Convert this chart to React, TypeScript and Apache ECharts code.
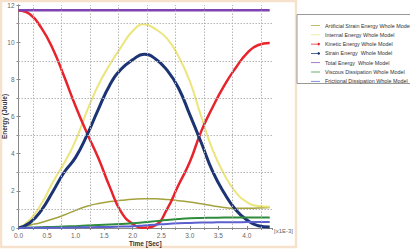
import React, { useEffect, useRef } from "react";
import * as echarts from "echarts";

const times = [0, 0.2, 0.4, 0.6, 0.8, 1.0, 1.2, 1.4, 1.6, 1.8, 2.0, 2.2, 2.4, 2.6, 2.8, 3.0, 3.2, 3.4, 3.6, 3.8, 4.0, 4.2, 4.4];
const artificial = [0, 0.15, 0.3, 0.48, 0.7, 0.95, 1.17, 1.32, 1.42, 1.49, 1.55, 1.58, 1.57, 1.53, 1.47, 1.4, 1.3, 1.2, 1.1, 1.06, 1.06, 1.08, 1.1];
const internal = [0, 0.45, 1.3, 2.45, 3.5, 4.7, 6.3, 7.7, 8.8, 9.75, 10.6, 10.96, 10.7, 10.2, 9.25, 7.9, 6.0, 4.2, 2.9, 1.95, 1.4, 1.18, 1.15];
const kinetic = [11.7, 11.5, 10.77, 9.65, 8.15, 6.55, 5.1, 3.75, 2.2, 0.85, 0.22, 0.02, 0.15, 1.0, 2.3, 3.55, 5.2, 6.5, 7.65, 8.6, 9.4, 9.85, 9.95];
const strain = [0, 0.28, 0.95, 1.95, 3.0, 3.8, 5.0, 6.4, 7.7, 8.55, 9.05, 9.35, 9.1, 8.5, 7.55, 6.1, 4.6, 3.05, 1.9, 1.0, 0.43, 0.12, 0.05];
const total = [11.72, 11.72, 11.72, 11.72, 11.72, 11.72, 11.72, 11.72, 11.72, 11.72, 11.72, 11.72, 11.72, 11.72, 11.72, 11.72, 11.72, 11.72, 11.72, 11.72, 11.72, 11.72, 11.72];
const viscous = [0, 0.02, 0.04, 0.06, 0.08, 0.1, 0.13, 0.16, 0.19, 0.22, 0.25, 0.31, 0.37, 0.43, 0.48, 0.52, 0.54, 0.55, 0.56, 0.56, 0.57, 0.57, 0.57];
const frictional = [0, 0.01, 0.01, 0.02, 0.02, 0.03, 0.04, 0.05, 0.06, 0.08, 0.1, 0.14, 0.18, 0.22, 0.25, 0.27, 0.29, 0.3, 0.31, 0.31, 0.32, 0.32, 0.32];

const seriesNames = [
  "Artificial Strain Energy Whole Model",
  "Internal Energy Whole Model",
  "Kinetic Energy Whole Model",
  "Strain Energy  Whole Model",
  "Total Energy  Whole Model",
  "Viscous Dissipation Whole Model",
  "Frictional Dissipation Whole Model",
];
const seriesValues = [artificial, internal, kinetic, strain, total, viscous, frictional];
const seriesColors = ["#a3a23c", "#ece57c", "#e8232b", "#1c3474", "#7f42b3", "#2f8c3c", "#5c60cf"];
const seriesWidths = [1.5, 2, 2.5, 3, 2.5, 2, 2];
const seriesMarkers = [false, false, true, true, false, false, false];

const xTickLabels = ["0.0", "0.5", "1.0", "1.5", "2.0", "2.5", "3.0", "3.5", "4.0"];
const gridX = [0.25, 0.75, 1.25, 1.75, 2.25, 2.75, 3.25, 3.75, 4.25];
const gridY = [1, 3, 5, 7, 9, 11];

const FONT = "Liberation Sans";
const LINE_ICON = "path://M0 0H20V1.6H0Z";
const MARK_ICON = "path://M0 4.2H13.5A2.6 2.6 0 1 1 13.5 5.8H0Z";

export default function App() {
  const ref = useRef<HTMLDivElement>(null);
  useEffect(() => {
    if (!ref.current) return;
    const chart = echarts.init(ref.current, null, { renderer: "svg" });
    const lineSeries = seriesNames.map((name, i) => ({
      name,
      type: "line",
      data: times.map((t, j) => [t, seriesValues[i][j]]),
      smooth: 0.5,
      symbol: "none",
      xAxisIndex: 0,
      yAxisIndex: 0,
      lineStyle: { color: seriesColors[i], width: seriesWidths[i] },
      itemStyle: { color: seriesColors[i] },
      z: 3,
    }));
    chart.setOption({
      animation: false,
      textStyle: { fontFamily: FONT },
      grid: {
        left: 18.5,
        top: 5,
        width: 253.5,
        height: 223,
        show: false,
        containLabel: false,
        outerBoundsMode: "none",
      },
      legend: {
        data: seriesNames.map((name, i) => ({
          name,
          icon: seriesMarkers[i] ? MARK_ICON : LINE_ICON,
        })),
        orient: "vertical",
        left: 306,
        top: 17,
        itemWidth: 9,
        itemHeight: 7,
        itemGap: 2.3,
        textStyle: { fontSize: 5.4, color: "#333", fontFamily: FONT, lineHeight: 7 },
      },
      xAxis: [
        {
          type: "value",
          position: "bottom",
          min: 0,
          max: 4.44,
          interval: 0.5,
          name: "Time [Sec]",
          nameLocation: "middle",
          nameGap: 12,
          nameMoveOverlap: false,
          nameTextStyle: { fontSize: 6.5, fontWeight: "bold", color: "#333" },
          axisLine: { lineStyle: { color: "#888" } },
          axisTick: { inside: true, length: 2, lineStyle: { color: "#888" } },
          axisLabel: {
            fontSize: 6.5,
            color: "#666",
            margin: 4,
            showMaxLabel: false,
            formatter: (v: number) => xTickLabels[Math.round(v / 0.5)] ?? "",
          },
          splitLine: { show: false },
        },
        {
          type: "value",
          position: "top",
          min: 0,
          max: 4.44,
          interval: 0.25,
          axisLine: { lineStyle: { color: "#888" } },
          axisTick: { inside: true, length: 2, lineStyle: { color: "#888" } },
          axisLabel: { show: false },
          splitLine: { show: false },
        },
      ],
      yAxis: [
        {
          type: "value",
          position: "left",
          min: 0,
          max: 12,
          interval: 2,
          name: "Energy (Joule)",
          nameLocation: "middle",
          nameGap: 11,
          nameMoveOverlap: false,
          nameTextStyle: { fontSize: 6.5, fontWeight: "bold", color: "#333", lineHeight: 7 },
          axisLine: { show: true, lineStyle: { color: "#888" } },
          axisTick: { show: true, inside: true, length: 2, lineStyle: { color: "#888" } },
          axisLabel: { fontSize: 6.5, color: "#666", margin: 4 },
          splitLine: { show: false },
        },
        {
          type: "value",
          position: "right",
          min: 0,
          max: 12,
          interval: 1,
          axisLine: { show: true, lineStyle: { color: "#888" } },
          axisTick: { show: true, inside: true, length: 2, lineStyle: { color: "#888" } },
          axisLabel: { show: false },
          splitLine: { show: false },
        },
      ],
      graphic: [
        {
          type: "rect",
          shape: { x: 1, y: 1, width: 295, height: 246 },
          style: { fill: "none", stroke: "#f6e2cc", lineWidth: 2.5 },
          silent: true,
          z: -1,
        },
        {
          type: "rect",
          shape: { x: 297, y: 14.5, width: 120, height: 69 },
          style: { fill: "#fff", stroke: "#999", lineWidth: 1 },
          silent: true,
          z: -1,
        },
        {
          type: "text",
          x: 274,
          y: 228,
          style: { text: "[x1E-3]", fontSize: 6, fill: "#666", fontFamily: FONT },
        },
      ],
      series: [
        {
          name: "grid",
          type: "line",
          data: [],
          symbol: "none",
          silent: true,
          z: 1,
          markLine: {
            silent: true,
            symbol: ["none", "none"],
            label: { show: false },
            lineStyle: { color: "#b5b5b5", type: [1.5, 1.5], width: 1 },
            data: [
              ...gridX.map((v) => ({ xAxis: v })),
              ...gridY.map((v) => ({ yAxis: v })),
            ],
          },
        },
        ...lineSeries,
      ],
    });
    return () => chart.dispose();
  }, []);
  return (
    <div
      ref={ref}
      style={{ position: "absolute", left: 0, top: 0, width: 410, height: 250, background: "#fff" }}
    />
  );
}
